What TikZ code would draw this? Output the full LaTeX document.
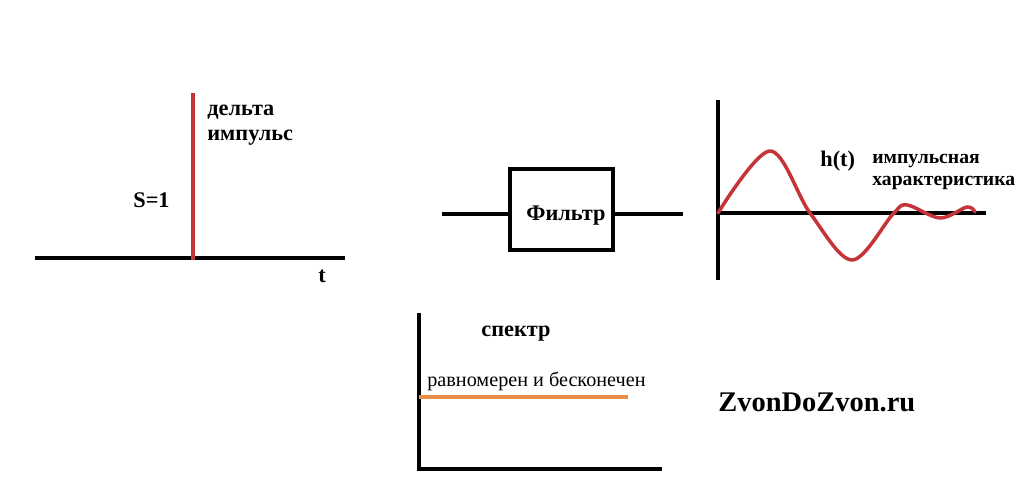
\documentclass[tikz,border=0pt]{standalone}
\usepackage{fontspec}
\setmainfont{Liberation Serif}
\begin{document}
\begin{tikzpicture}[x=0.02cm,y=-0.02cm,
  axis/.style={line width=2pt,black},
  redline/.style={line width=2pt,draw={rgb,255:red,196;green,52;blue,56}},
  orangeline/.style={line width=1.9pt,draw={rgb,255:red,232;green,142;blue,72}},
  lbl/.style={font=\bfseries\fontsize{12.7}{15}\selectfont,inner sep=0pt,anchor=base west},
  lblsmall/.style={font=\bfseries\fontsize{11.2}{13}\selectfont,inner sep=0pt,anchor=base west},
  plain/.style={font=\fontsize{11.5}{13}\selectfont,inner sep=0pt,anchor=base west},
  boxstyle/.style={draw,line width=2pt,minimum width=103*0.02cm,minimum height=81*0.02cm,inner sep=0pt}
]
\useasboundingbox (0,0) rectangle (1024,499);
% delta impulse
\coordinate (t0) at (35,258);
\coordinate (t1) at (345,258);
\coordinate (d0) at (193,260);
\coordinate (d1) at (193,93);
\draw[axis] (t0) -- (t1);
\draw[redline] (d0) -- (d1);
\node[lbl] (delta1) at (207,116) {дельта};
\node[lbl] (delta2) at (207,141) {импульс};
\node[lbl] (s1) at (133,208) {S=1};
\node[lbl] (tl) at (318,283) {t};
% filter
\node[boxstyle] (filter) at (561.5,209.5) {};
\node[lbl] (ftext) at (526,221) {Фильтр};
\coordinate (in) at (442,214);
\coordinate (out) at (683,214);
\draw[axis] (in) -- (filter.west |- in);
\draw[axis] (filter.east |- out) -- (out);
% impulse response
\coordinate (hy0) at (718,280);
\coordinate (hy1) at (718,100);
\coordinate (hx1) at (986,213);
\draw[axis] (hy0) -- (hy1);
\draw[axis] (718,213) -- (hx1);
\draw[redline,line join=round,line cap=round] plot[smooth,tension=0.55] coordinates {
  (718,213) (770,151) (810,213) (852,260) (893,214) (907,205) (940,218) (967,207) (975,212)};
\node[lbl] (ht) at (820,167) {h(t)};
\node[lblsmall] (imp) at (872,164) {импульсная};
\node[lblsmall] (har) at (872,186) {характеристика};
% spectrum
\coordinate (sy1) at (419,313);
\coordinate (so) at (419,469);
\coordinate (sx1) at (662,469);
\draw[axis] (sy1) -- (so) -- (sx1);
\coordinate (o0) at (419,397);
\coordinate (o1) at (628,397);
\draw[orangeline] (o0) -- (o1);
\node[lbl] (spec) at (481,337) {спектр};
\node[plain] (ravn) at (427,387) {равномерен и бесконечен};
\node[font=\bfseries\fontsize{16.2}{19}\selectfont,inner sep=0pt,anchor=base west] (zd) at (718,412) {ZvonDoZvon.ru};
\end{tikzpicture}
\end{document}
